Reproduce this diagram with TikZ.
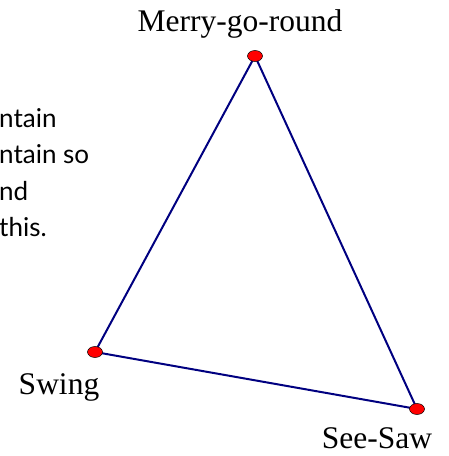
\documentclass[tikz,border=0pt]{standalone}
\usepackage{fontspec}
\setmainfont{Liberation Serif}
\newfontfamily\notefont{Lato}
\usetikzlibrary{shapes.geometric}
\definecolor{edgeblue}{RGB}{0,0,128}
\begin{document}
\begin{tikzpicture}[x=1pt,y=1pt,
  vtx/.style={ellipse,draw=black,line width=0.5pt,fill=red,minimum width=15pt,minimum height=11pt,inner sep=0pt},
  edge/.style={draw=edgeblue,line width=2pt},
  lbl/.style={font=\fontsize{31.5}{36}\selectfont,inner sep=0pt,anchor=base},
  note/.style={font=\notefont\fontsize{26}{30}\selectfont,inner sep=0pt,anchor=base west}]
\useasboundingbox (0,0) rectangle (448,456);
\clip (0,0) rectangle (448,456);
\coordinate (m) at (255,400);
\coordinate (s) at (95,104);
\coordinate (w) at (417,47);
\draw[edge] (m) -- (s) -- (w) -- cycle;
\node[vtx] (M) at (m) {};
\node[vtx] (S) at (s) {};
\node[vtx] (W) at (w) {};
\node[lbl] (lm) at (240,424) {Merry-go-round};
\node[lbl] (ls) at (59,61) {Swing};
\node[lbl] (lw) at (377,8) {See-Saw};
\node[note] (n1) at (-1,328) {ntain};
\node[note] (n2) at (-1,292) {ntain so};
\node[note] (n3) at (-1,255) {nd};
\node[note] (n4) at (-1,219) {this.};
\end{tikzpicture}
\end{document}
